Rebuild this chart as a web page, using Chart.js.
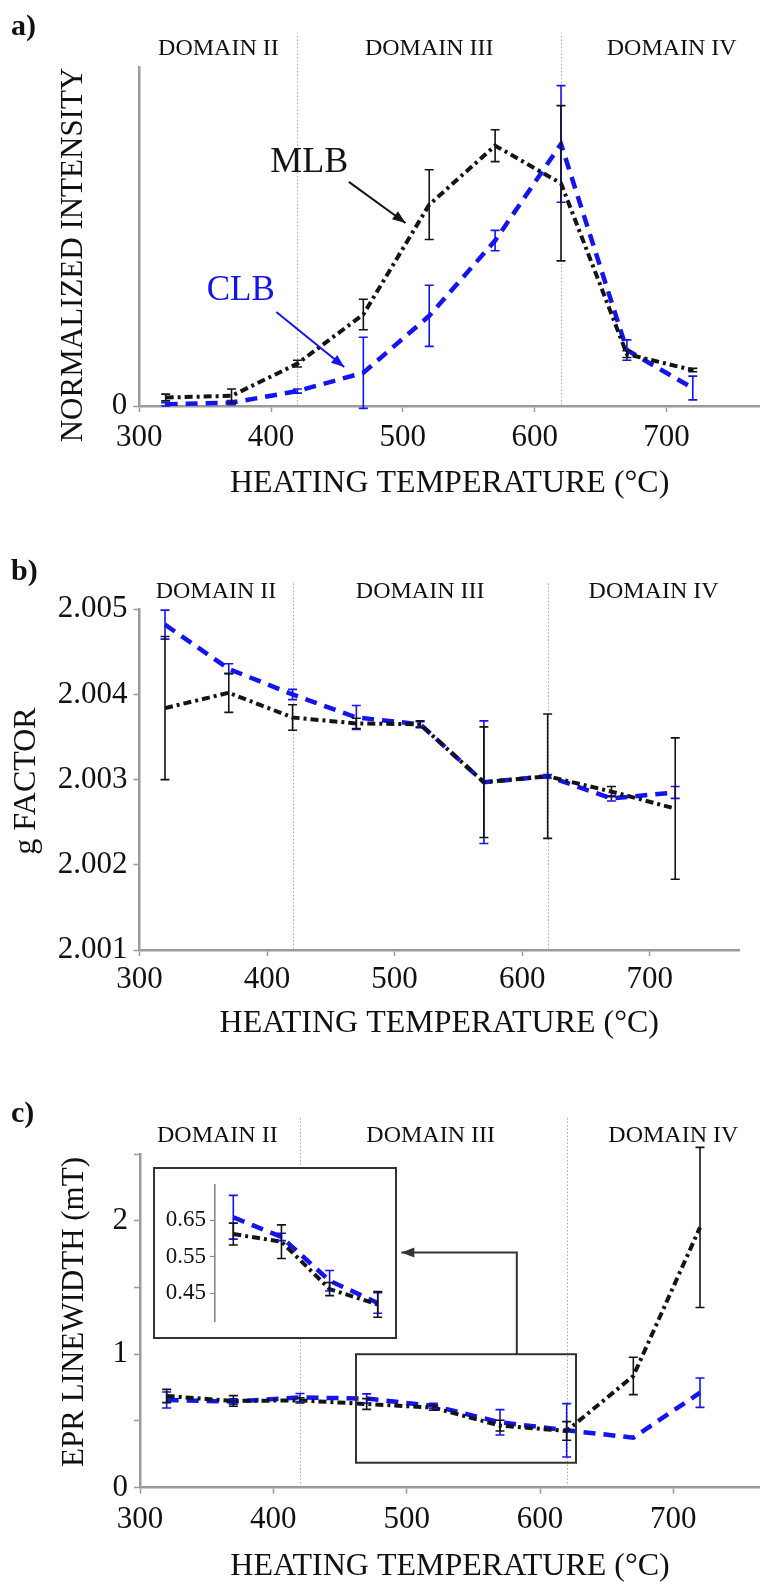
<!DOCTYPE html>
<html>
<head>
  <title>MLB / CLB heating series</title>
  <script src="https://cdn.jsdelivr.net/npm/chart.js"></script>
  <style>
    body { margin: 0; background: #fff; }
    #wrap { position: relative; width: 760px; height: 1586px; overflow: hidden; }
    canvas { position: absolute; left: 0; }
  </style>
</head>
<body>
<div id="wrap">
  <canvas id="chartA" width="760" height="510" style="top:0px"></canvas>
  <canvas id="chartB" width="760" height="540" style="top:510px"></canvas>
  <canvas id="chartC" width="760" height="536" style="top:1050px"></canvas>
  <canvas id="chartInset" width="244" height="172" style="top:1167px; left:153px"></canvas>
</div>

<script>
  // heating temperatures (°C), same for every panel
  const temps = [320, 370, 420, 470, 520, 570, 620, 670, 720];
  const tempTicks = [300, 400, 500, 600, 700];
  const domainBounds = [420, 620];
  const domainLabels = ['DOMAIN II', 'DOMAIN III', 'DOMAIN IV'];

  // a) normalized intensity
  const mlbIntensity    = [0.025, 0.03, 0.125, 0.27, 0.594, 0.768, 0.657, 0.153, 0.106];
  const mlbIntensityErr = [0.01, 0.02, 0.01, 0.045, 0.103, 0.047, 0.229, 0.01, 0.005];
  const clbIntensity    = [0.005, 0.01, 0.044, 0.098, 0.266, 0.488, 0.773, 0.165, 0.053];
  const clbIntensityErr = [0.005, 0.006, 0.006, 0.105, 0.09, 0.03, 0.172, 0.03, 0.035];

  // b) g factor
  const gTicks   = [2.001, 2.002, 2.003, 2.004, 2.005];
  const mlbG     = [2.00384, 2.00402, 2.00373, 2.00366, 2.00365, 2.00297, 2.00304, 2.00286, 2.00266];
  const mlbGErr  = [0.00084, 0.00023, 0.00015, 0.00006, 0.00004, 0.00065, 0.00073, 0.00006, 0.00083];
  const clbG     = [2.00482, 2.0043, 2.004, 2.00373, 2.00365, 2.00297, 2.00304, 2.00278, 2.00285];
  const clbGErr  = [0.00017, 0.00006, 0.00006, 0.00014, 0.00003, 0.00072, 0.00002, 0.00003, 0.00007];

  // c) EPR linewidth (mT)
  const widthTicks  = [0, 0.5, 1, 1.5, 2, 2.5];
  const mlbWidth    = [0.687, 0.65, 0.654, 0.627, 0.6, 0.465, 0.425, 0.837, 1.95];
  const mlbWidthErr = [0.05, 0.04, 0.02, 0.04, 0.02, 0.04, 0.07, 0.14, 0.6];
  const clbWidth    = [0.657, 0.646, 0.676, 0.668, 0.613, 0.49, 0.43, 0.375, 0.712];
  const clbWidthErr = [0.06, 0.02, 0.03, 0.035, 0.02, 0.095, 0.2, 0, 0.11];

  // c) inset, zoom on 470-620 °C
  const insetTemps  = [470, 520, 570, 620];
  const insetTicks  = [0.45, 0.55, 0.65];
  const insetMlb    = [0.612, 0.591, 0.461, 0.419];
  const insetMlbErr = [0.03, 0.046, 0.018, 0.035];
  const insetClb    = [0.658, 0.604, 0.484, 0.423];
  const insetClbErr = [0.06, 0.01, 0.028, 0.028];

  const FONT = '"Liberation Serif", "DejaVu Serif", serif';
  const GREY = '#9b9b9b';
  const INK = '#111';
  const BLACK = '#141414';
  const BLUE = '#1414ee';

  function series(label, xs, values, errs, color, dash, width) {
    return {
      label: label,
      data: xs.map((t, i) => ({ x: t, y: values[i] })),
      borderColor: color,
      borderWidth: width,
      borderDash: dash,
      pointRadius: 0,
      tension: 0,
      fill: false,
      errorBars: errs,
      errorColor: color
    };
  }

  // vertical error bars with caps, drawn from the chart's own scales
  const errorBarPlugin = {
    id: 'errorBars',
    afterDatasetsDraw(chart) {
      const { ctx, scales: { x, y } } = chart;
      const sets = chart.data.datasets.slice().reverse();
      sets.forEach(ds => {
        if (!ds.errorBars) return;
        ctx.save();
        ctx.strokeStyle = ds.errorColor;
        ctx.lineWidth = 1.6;
        ds.data.forEach((p, i) => {
          const e = ds.errorBars[i];
          if (!e) return;
          const px = x.getPixelForValue(p.x);
          const top = y.getPixelForValue(p.y + e);
          const bot = y.getPixelForValue(p.y - e);
          ctx.beginPath();
          ctx.moveTo(px, top); ctx.lineTo(px, bot);
          ctx.moveTo(px - 4.5, top); ctx.lineTo(px + 4.5, top);
          ctx.moveTo(px - 4.5, bot); ctx.lineTo(px + 4.5, bot);
          ctx.stroke();
        });
        ctx.restore();
      });
    }
  };

  function arrowHead(ctx, x0, y0, x1, y1, color) {
    const a = Math.atan2(y1 - y0, x1 - x0);
    const len = 13, half = 5;
    ctx.save();
    ctx.fillStyle = color;
    ctx.translate(x1, y1);
    ctx.rotate(a);
    ctx.beginPath();
    ctx.moveTo(0, 0);
    ctx.lineTo(-len, -half);
    ctx.lineTo(-len, half);
    ctx.closePath();
    ctx.fill();
    ctx.restore();
  }

  // panel tag, domain separators, axis titles and annotations
  const decorPlugin = {
    id: 'decor',
    beforeDatasetsDraw(chart, args, opts) {
      const { ctx, chartArea, scales: { x } } = chart;
      ctx.save();
      ctx.strokeStyle = '#a8a8a8';
      ctx.lineWidth = 1;
      ctx.setLineDash([1.5, 2]);
      domainBounds.forEach(t => {
        const px = Math.round(x.getPixelForValue(t)) + 0.5;
        ctx.beginPath();
        ctx.moveTo(px, chartArea.top - opts.domainLineTop);
        ctx.lineTo(px, chartArea.bottom);
        ctx.stroke();
      });
      ctx.restore();
    },
    afterDraw(chart, args, opts) {
      const { ctx, chartArea, scales: { x, y } } = chart;
      ctx.save();
      // tag
      ctx.fillStyle = INK;
      ctx.font = 'bold 30px ' + FONT;
      ctx.textBaseline = 'middle';
      ctx.textAlign = 'left';
      ctx.fillText(opts.tag, 11, opts.tagY);
      // domain labels
      ctx.font = '24px ' + FONT;
      ctx.textAlign = 'center';
      domainLabels.forEach((d, i) => {
        ctx.fillText(d, x.getPixelForValue(opts.domainCenters[i]), chartArea.top - 18);
      });
      // y title
      ctx.save();
      ctx.translate(opts.yTitle.x, opts.yTitle.y);
      ctx.rotate(-Math.PI / 2);
      ctx.font = opts.yTitle.size + 'px ' + FONT;
      ctx.textBaseline = 'alphabetic';
      ctx.fillText(opts.yTitle.text, 0, 0);
      ctx.restore();
      // notes
      (opts.notes || []).forEach(n => {
        ctx.fillStyle = n.color;
        ctx.font = n.size + 'px ' + FONT;
        ctx.textBaseline = 'middle';
        ctx.fillText(n.text, x.getPixelForValue(n.x), y.getPixelForValue(n.y));
      });
      // zoom boxes
      (opts.boxes || []).forEach(b => {
        const l = x.getPixelForValue(b.x0), r = x.getPixelForValue(b.x1);
        const t = y.getPixelForValue(b.y1), bt = y.getPixelForValue(b.y0);
        ctx.strokeStyle = '#333';
        ctx.lineWidth = 2;
        ctx.strokeRect(l, t, r - l, bt - t);
      });
      // arrows
      (opts.arrows || []).forEach(a => {
        const pts = a.pts.map(p => [x.getPixelForValue(p[0]), y.getPixelForValue(p[1])]);
        ctx.strokeStyle = a.color;
        ctx.lineWidth = a.width;
        ctx.beginPath();
        pts.forEach((p, i) => i ? ctx.lineTo(p[0], p[1]) : ctx.moveTo(p[0], p[1]));
        ctx.stroke();
        const n = pts.length;
        arrowHead(ctx, pts[n - 2][0], pts[n - 2][1], pts[n - 1][0], pts[n - 1][1], a.color);
      });
      ctx.restore();
    }
  };

  function xAxis(max, labelPad, boxHeight, titlePad) {
    return {
      type: 'linear', min: 300, max: max,
      afterBuildTicks: s => { s.ticks = tempTicks.map(v => ({ value: v })); },
      afterFit: s => { s.height = boxHeight; },
      border: { display: true, color: GREY, width: 2.5 },
      grid: { drawOnChartArea: false, drawTicks: true, tickLength: 6, tickColor: GREY, tickWidth: 1.5 },
      ticks: { color: INK, font: { family: FONT, size: 31 }, padding: labelPad, maxRotation: 0, autoSkip: false },
      title: {
        display: true, text: 'HEATING TEMPERATURE (°C)', color: INK,
        font: { family: FONT, size: 32 }, padding: { top: 0, bottom: titlePad }
      }
    };
  }

  function yAxis(min, max, ticks, fmt, width, size) {
    return {
      type: 'linear', min: min, max: max,
      afterBuildTicks: s => { s.ticks = ticks.map(v => ({ value: v })); },
      afterFit: s => { s.width = width; },
      border: { display: true, color: GREY, width: 2.5 },
      grid: { drawOnChartArea: false, drawTicks: true, tickLength: 6, tickColor: GREY, tickWidth: 1.5 },
      ticks: { color: INK, font: { family: FONT, size: size }, padding: 6, callback: fmt }
    };
  }

  function baseOptions(padding, scales, decor) {
    return {
      responsive: false,
      animation: false,
      events: [],
      layout: { padding: padding },
      scales: scales,
      plugins: { legend: { display: false }, tooltip: { enabled: false }, decor: decor }
    };
  }

  // a)
  new Chart(document.getElementById('chartA'), {
    type: 'line',
    data: {
      datasets: [
        series('MLB', temps, mlbIntensity, mlbIntensityErr, BLACK, [8, 4, 3, 4], 4),
        series('CLB', temps, clbIntensity, clbIntensityErr, BLUE, [12, 8], 4.5)
      ]
    },
    options: baseOptions({ top: 67, left: 0, right: 0, bottom: 0 }, {
      x: xAxis(771, 7, 104, 7),
      y: yAxis(0, 1, [0], v => String(v), 139.3, 31)
    }, {
      tag: 'a)', tagY: 27, domainLineTop: 31, domainCenters: [360, 520, 704],
      yTitle: { text: 'NORMALIZED INTENSITY', x: 82, y: 255, size: 31 },
      notes: [
        { text: 'MLB', x: 429, y: 0.717, color: BLACK, size: 36 },
        { text: 'CLB', x: 377, y: 0.339, color: BLUE, size: 35 }
      ],
      arrows: [
        { pts: [[459, 0.661], [502, 0.54]], color: BLACK, width: 2 },
        { pts: [[404, 0.277], [455.5, 0.115]], color: BLUE, width: 2 }
      ]
    }),
    plugins: [decorPlugin, errorBarPlugin]
  });

  // b)
  new Chart(document.getElementById('chartB'), {
    type: 'line',
    data: {
      datasets: [
        series('MLB', temps, mlbG, mlbGErr, BLACK, [8, 4, 3, 4], 4),
        series('CLB', temps, clbG, clbGErr, BLUE, [12, 8], 4.5)
      ]
    },
    options: baseOptions({ top: 99.3, left: 0, right: 21, bottom: 0 }, {
      x: xAxis(770, 5, 100, 7),
      y: yAxis(2.001, 2.005, gTicks, v => v.toFixed(3), 139.5, 31)
    }, {
      tag: 'b)', tagY: 62, domainLineTop: 26, domainCenters: [360, 520, 703],
      yTitle: { text: 'g FACTOR', x: 35, y: 271, size: 32 }
    }),
    plugins: [decorPlugin, errorBarPlugin]
  });

  // c)
  new Chart(document.getElementById('chartC'), {
    type: 'line',
    data: {
      datasets: [
        series('MLB', temps, mlbWidth, mlbWidthErr, BLACK, [8, 4, 3, 4], 4),
        series('CLB', temps, clbWidth, clbWidthErr, BLUE, [12, 8], 4.5)
      ]
    },
    options: baseOptions({ top: 104, left: 0, right: 0, bottom: 0 }, {
      x: xAxis(765, 8, 98.3, 0),
      y: yAxis(0, 2.5, widthTicks, v => (Number.isInteger(v) ? String(v) : ''), 140, 31)
    }, {
      tag: 'c)', tagY: 64, domainLineTop: 36, domainCenters: [358, 518, 700],
      yTitle: { text: 'EPR LINEWIDTH (mT)', x: 83, y: 262, size: 31 },
      boxes: [{ x0: 462, x1: 627, y0: 0.187, y1: 1.0 }],
      arrows: [
        { pts: [[582.6, 1.0], [582.6, 1.762], [496, 1.762]], color: '#333', width: 2 }
      ]
    }),
    plugins: [decorPlugin, errorBarPlugin]
  });

  // c) inset
  const insetFrame = {
    id: 'insetFrame',
    beforeDraw(chart) {
      const { ctx, width, height } = chart;
      ctx.save();
      ctx.fillStyle = '#fff';
      ctx.fillRect(0, 0, width, height);
      ctx.restore();
    },
    afterDraw(chart) {
      const { ctx, width, height } = chart;
      ctx.save();
      ctx.strokeStyle = '#333';
      ctx.lineWidth = 2;
      ctx.strokeRect(1, 1, width - 2, height - 2);
      ctx.restore();
    }
  };

  new Chart(document.getElementById('chartInset'), {
    type: 'line',
    data: {
      datasets: [
        series('MLB', insetTemps, insetMlb, insetMlbErr, BLACK, [8, 4, 3, 4], 4),
        series('CLB', insetTemps, insetClb, insetClbErr, BLUE, [12, 8], 4.5)
      ]
    },
    options: {
      responsive: false,
      animation: false,
      events: [],
      layout: { padding: { top: 6.3, left: 0, right: 0, bottom: 12.4 } },
      scales: {
        x: { type: 'linear', min: 451, max: 640, display: false },
        y: {
          type: 'linear', min: 0.373, max: 0.747,
          afterBuildTicks: s => { s.ticks = insetTicks.map(v => ({ value: v })); },
          afterFit: s => { s.width = 62; },
          border: { display: true, color: '#8a8a8a', width: 1.6 },
          grid: { drawOnChartArea: false, drawTicks: true, tickLength: 5, tickColor: '#8a8a8a', tickWidth: 1.2 },
          ticks: { color: INK, font: { family: FONT, size: 23 }, padding: 4, callback: v => v.toFixed(2) }
        }
      },
      plugins: { legend: { display: false }, tooltip: { enabled: false } }
    },
    plugins: [insetFrame, errorBarPlugin]
  });
</script>
</body>
</html>
